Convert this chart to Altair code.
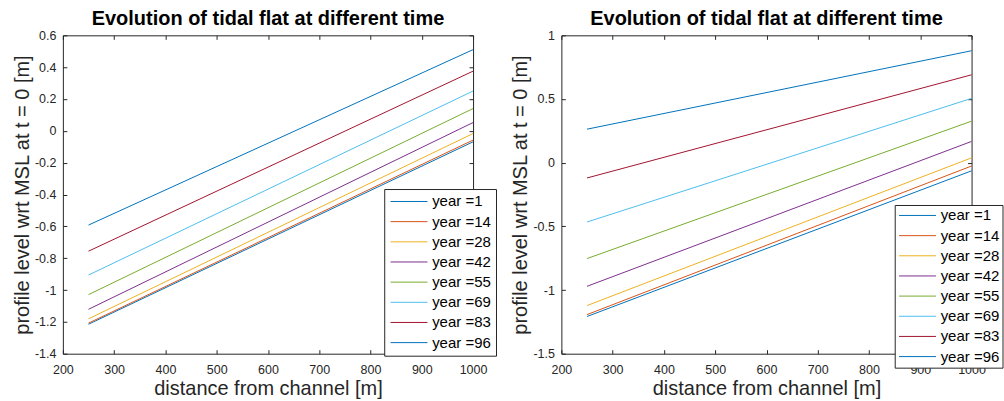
import altair as alt
import pandas as pd

# ---------------- data ----------------
years = [1, 14, 28, 42, 55, 69, 83, 96]
series_labels = ["year =%d" % y for y in years]
series_colors = ["#0072BD", "#D95319", "#EDB120", "#7E2F8E",
                 "#77AC30", "#4DBEEE", "#A2142F", "#0072BD"]
distance = [250, 1000]

left_start = [-1.215, -1.208, -1.181, -1.121, -1.029, -0.906, -0.756, -0.592]
left_end = [-0.069, -0.058, -0.017, 0.052, 0.140, 0.250, 0.375, 0.510]

right_start = [-1.208, -1.193, -1.122, -0.971, -0.753, -0.466, -0.120, 0.263]
right_end = [-0.064, -0.026, 0.038, 0.167, 0.326, 0.505, 0.690, 0.879]

x_ticks = [200, 300, 400, 500, 600, 700, 800, 900, 1000]
left_y_ticks = [-1.4, -1.2, -1, -0.8, -0.6, -0.4, -0.2, 0, 0.2, 0.4, 0.6]
right_y_ticks = [-1.5, -1, -0.5, 0, 0.5, 1]

title_text = "Evolution of tidal flat at different time"
x_title = "distance from channel [m]"
y_title = "profile level wrt MSL at t = 0 [m]"

FONT = "Liberation Sans"
AX = "#262626"
LABEL_EXPR = "'' + datum.value"


def frame(starts, ends):
    rows = []
    for lab, s, e in zip(series_labels, starts, ends):
        rows.append({"series": lab, "distance": distance[0], "level": s})
        rows.append({"series": lab, "distance": distance[1], "level": e})
    return pd.DataFrame(rows)


def panel(df, ydom, yticks, lx, ly, lpad):
    xs = alt.Scale(domain=[200, 1000], nice=False, zero=False)
    ys = alt.Scale(domain=ydom, nice=False, zero=False)

    lines = alt.Chart(df).mark_line(strokeWidth=1).encode(
        x=alt.X("distance:Q", scale=xs,
                axis=alt.Axis(values=x_ticks, title=x_title, labelExpr=LABEL_EXPR,
                              ticks=False, tickSize=0, labelPadding=10,
                              labelFlush=False, titlePadding=2)),
        y=alt.Y("level:Q", scale=ys,
                axis=alt.Axis(values=yticks, title=y_title, labelExpr=LABEL_EXPR,
                              ticks=False, tickSize=0, labelPadding=7,
                              labelFlush=False, titlePadding=2)),
        color=alt.Color("series:N", sort=series_labels, title=None,
                        scale=alt.Scale(domain=series_labels, range=series_colors),
                        legend=alt.Legend(orient="none", legendX=lx, legendY=ly,
                                          padding=lpad)),
    )

    ticks_bl = alt.Chart(df).mark_point(opacity=0).encode(
        x=alt.X("distance:Q", scale=xs,
                axis=alt.Axis(orient="bottom", values=x_ticks, labels=False,
                              ticks=True, tickSize=4, offset=-4, title=None)),
        y=alt.Y("level:Q", scale=ys,
                axis=alt.Axis(orient="left", values=yticks, labels=False,
                              ticks=True, tickSize=4, offset=-4, title=None)),
    )
    ticks_tr = alt.Chart(df).mark_point(opacity=0).encode(
        x=alt.X("distance:Q", scale=xs,
                axis=alt.Axis(orient="top", values=x_ticks, labels=False,
                              ticks=True, tickSize=4, offset=-4, title=None)),
        y=alt.Y("level:Q", scale=ys,
                axis=alt.Axis(orient="right", values=yticks, labels=False,
                              ticks=True, tickSize=4, offset=-4, title=None)),
    )

    return alt.layer(lines, ticks_bl, ticks_tr).resolve_axis(
        x="independent", y="independent"
    ).properties(
        width=411, height=319,
        title=alt.TitleParams(text=title_text, font=FONT, fontSize=20,
                              fontWeight="bold", color="black", anchor="middle",
                              offset=0),
    )


left = panel(frame(left_start, left_end), [-1.4, 0.6], left_y_ticks, 322, 154, 5)
right = panel(frame(right_start, right_end), [-1.5, 1], right_y_ticks, 334, 170, 3)

chart = alt.hconcat(left, right, spacing=12.5).resolve_scale(
    color="independent"
).resolve_legend(
    color="independent"
).properties(
    padding={"left": 11, "top": 8, "right": 0, "bottom": 0},
    background="white",
).configure_view(
    stroke=AX, strokeWidth=1
).configure_axis(
    grid=False, domain=False, tickColor=AX, tickWidth=1,
    labelFont=FONT, labelFontSize=12.5, labelColor=AX,
    titleFont=FONT, titleFontSize=20, titleFontWeight="normal", titleColor=AX,
).configure_legend(
    fillColor="white", strokeColor=AX, strokeWidth=1,
    symbolType="M-1,0H5", symbolSize=152, symbolStrokeWidth=1,
    labelOffset=28, labelFont=FONT, labelFontSize=15, labelColor="black",
    rowPadding=4.2, cornerRadius=0,
)

chart.save("out.html", embed_options={"renderer": "svg", "actions": False})
